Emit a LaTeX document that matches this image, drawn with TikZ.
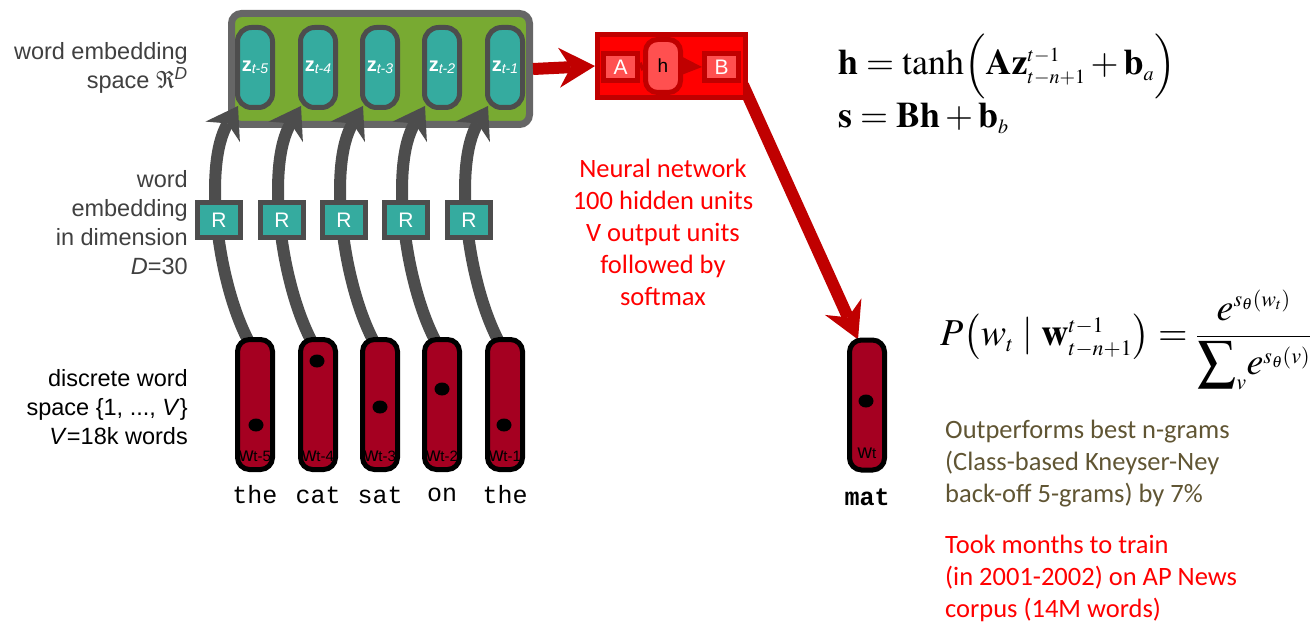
\documentclass[tikz,border=0pt]{standalone}
\usepackage{amsmath}
\usepackage{mathptmx}
\usepackage[no-math]{fontspec}
\setmainfont{Liberation Sans}
\newfontfamily\calib{Carlito}
\newfontfamily\monof{Liberation Mono}
\usetikzlibrary{arrows.meta,calc,shapes.geometric}
\DeclareMathSizes{36}{36}{20}{14}
\DeclareMathSizes{38}{38}{22}{16}
\definecolor{gborder}{HTML}{666666}
\definecolor{ggreen}{HTML}{78AA32}
\definecolor{teal1}{HTML}{35AB9F}
\definecolor{dgray}{HTML}{4D4D4D}
\definecolor{wred}{HTML}{A50021}
\definecolor{nnred}{HTML}{FF0000}
\definecolor{dred}{HTML}{C00000}
\definecolor{lred}{HTML}{FF5050}
\definecolor{olivetext}{HTML}{605533}
\definecolor{lgtext}{HTML}{404040}
\pgfdeclarelayer{back}
\pgfdeclarelayer{mid}
\pgfsetlayers{back,mid,main}
\tikzset{
 embbox/.style={draw=gborder, line width=7pt, fill=ggreen, rounded corners=10pt, minimum width=298pt, minimum height=111pt, inner sep=0pt},
 zbox/.style={draw=dgray, line width=5pt, fill=teal1, rounded corners=14pt, minimum width=35pt, minimum height=80pt, inner sep=0pt, text=white},
 rbox/.style={draw=dgray, line width=5pt, fill=teal1, minimum width=43pt, minimum height=35pt, inner sep=0pt, text=white, font=\fontsize{21}{21}\selectfont},
 wbox/.style={draw=black, line width=5pt, fill=wred, rounded corners=12pt, minimum width=35pt, minimum height=130pt, inner sep=0pt},
 wdot/.style={fill=black, ellipse, minimum width=15pt, minimum height=13pt, inner sep=0pt},
 wlab/.style={inner sep=0pt, text=black},
 garrow/.style={draw=dgray, line width=12pt, -{Stealth[length=30pt,width=40pt,line width=0pt]}},
 rarrow/.style={draw=dred, line width=12pt, -{Stealth[length=36pt,width=40pt,line width=0pt]}},
 nnbox/.style={draw=dred, line width=5pt, fill=nnred, minimum width=148pt, minimum height=63pt, inner sep=0pt},
 abbox/.style={draw=dred, line width=5pt, fill=lred, minimum width=34pt, minimum height=27pt, inner sep=0pt, text=white, font=\fontsize{21}{21}\selectfont},
 hbox/.style={draw=dred, line width=5pt, fill=lred, rounded corners=12pt, minimum width=35pt, minimum height=53pt, inner sep=0pt, text=black, font=\fontsize{19}{19}\selectfont},
 sidelab/.style={anchor=east, align=right, inner sep=0pt, font=\fontsize{23.5}{29}\selectfont},
 word/.style={inner sep=0pt, font=\monof\fontsize{25}{25}\selectfont},
 cnote/.style={inner sep=0pt, font=\calib\fontsize{26.5}{32}\selectfont},
 eqn/.style={inner sep=0pt, font=\fontsize{36}{40}\selectfont}
}
\newcommand{\zlab}[1]{\textbf{\fontsize{20}{20}\selectfont z}\raisebox{-2pt}{\fontsize{14}{14}\selectfont\itshape t-#1}}
\newcommand{\wlabel}[1]{{\fontsize{20}{20}\selectfont w}{\fontsize{15}{15}\selectfont t#1}}
\begin{document}
\begin{tikzpicture}[x=1pt,y=-1pt]
\useasboundingbox (0,0) rectangle (1314,623);
% embedding space
\begin{pgfonlayer}{back}
\node[embbox] (emb) at (380.5,69) {};
\end{pgfonlayer}
\foreach \i/\x/\s/\dx/\dy in {1/255/5/1/425, 2/318/4/-1/361, 3/380/3/0/407, 4/442/2/0/389, 5/505/1/-1/425}{
  \node[zbox] (z\i) at (\x,67.5) {\zlab{\s}};
  \node[rbox] (r\i) at (\x-36,220) {R};
  \node[wbox] (w\i) at (\x,404.5) {};
  \node[wdot] (d\i) at (\x+\dx,\dy) {};
  \node[wlab] (wl\i) at (\x,456) {\wlabel{-\s}};
  \begin{pgfonlayer}{mid}
  \draw[garrow] ($(w\i.north)+(-7,3)$) .. controls ($(w\i.north)+(-38,-57)$) and ($(z\i.south)+(-52,55)$) .. ($(z\i.south)+(-17,-4)$);
  \end{pgfonlayer}
}
% words
\node[word] (t1) at (255,495) {the};
\node[word] (t2) at (318,495) {cat};
\node[word] (t3) at (380,495) {sat};
\node[word] (t4) at (442,495) {on};
\node[word] (t5) at (505,495) {the};
% side labels
\node[sidelab, text=lgtext] (l1) at (188,67.5) {word embedding\\space {$\Re$}\textsuperscript{\itshape D}};
\node[sidelab, text=lgtext] (l2) at (188,223) {word\\embedding\\in dimension\\\textit{D}=30};
\node[sidelab, text=black] (l3) at (188,407) {discrete word\\space \{1, ..., \textit{V}\}\\\textit{V}=18k words};
% neural network
\node[nnbox] (nn) at (671.5,66) {};
\node[abbox] (A) at (620.5,67) {A};
\node[hbox] (h) at (663,66) {h};
\node[abbox] (B) at (721.5,67) {B};
\draw[dred, line width=8pt] (A.east) -- (h.west);
\draw[dred, line width=5pt, -{Triangle[length=20pt,width=18pt,line width=0pt]}] (h.east) -- (B.west);
% output word
\node[wbox] (mat) at (867,405) {};
\node[wdot] (dm) at (866,401) {};
\node[wlab] (wlm) at (867,453) {\wlabel{}};
\node[word, font=\monof\bfseries\fontsize{25}{25}\selectfont] (tm) at (867,497) {mat};
% arrows
\begin{pgfonlayer}{mid}
\draw[rarrow] (emb.east) -- (nn.west);
\draw[rarrow] ($(nn.south east)+(-5,-15)$) -- ($(mat.north)+(-9,2)$);
\end{pgfonlayer}
% notes
\node[cnote, text=nnred, align=center] (nnlab) at (663,232.5) {Neural network\\100 hidden units\\V output units\\followed by\\softmax};
\node[cnote, text=olivetext, align=left, anchor=west] (perf) at (945,464) {Outperforms best n-grams\\(Class-based Kneyser-Ney\\back-off 5-grams) by 7\%};
\node[cnote, text=nnred, align=left, anchor=west] (took) at (945,578.5) {Took months to train\\(in 2001-2002) on AP News\\corpus (14M words)};
% equations
\node[eqn, anchor=base west] (eq1) at (838,75) {$\mathbf{h} = \tanh\Bigl(\mathbf{A}\mathbf{z}_{t-n+1}^{t-1} + \mathbf{b}_a\Bigr)$};
\node[eqn, anchor=base west] (eq2) at (838,128) {$\mathbf{s} = \mathbf{B}\mathbf{h} + \mathbf{b}_b$};
\node[eqn, anchor=west, font=\fontsize{38}{40}\selectfont] (eq3) at (940,340) {$P\bigl(w_t \mid \mathbf{w}_{t-n+1}^{t-1}\bigr) = \dfrac{e^{s_{\boldsymbol{\theta}}(w_t)}}{{\displaystyle\sum\nolimits_v} e^{s_{\boldsymbol{\theta}}(v)}}$};
\end{tikzpicture}
\end{document}
